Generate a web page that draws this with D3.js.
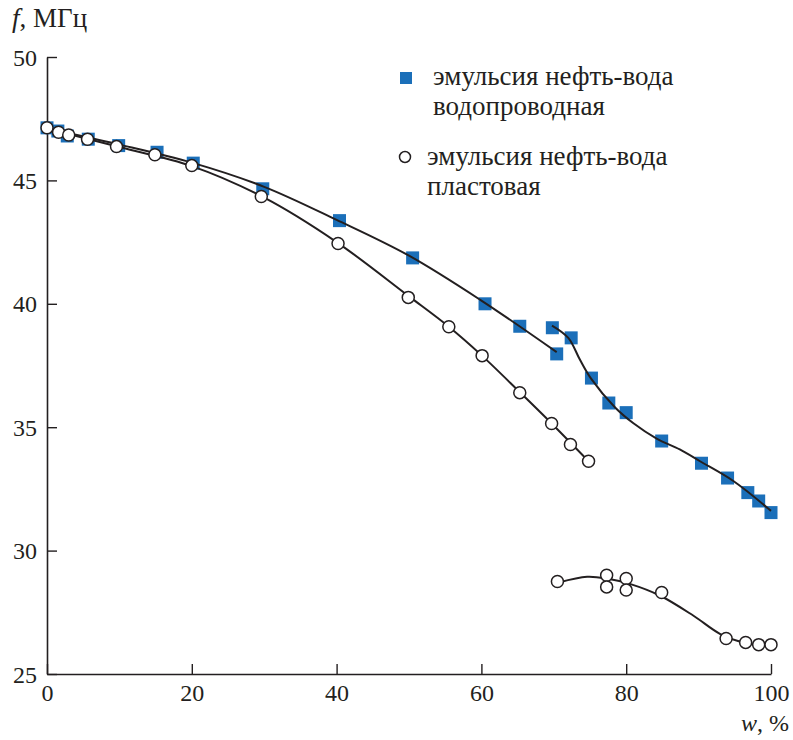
<!DOCTYPE html>
<html>
<head>
<meta charset="utf-8">
<script src="https://cdn.jsdelivr.net/npm/d3@7"></script>
<style>
  body { margin: 0; background: #fff; }
  svg text { font-family: "Liberation Serif", "Tinos", "Times New Roman", "DejaVu Serif", serif; fill: #231f20; }
</style>
</head>
<body>
<div id="chart"></div>
<script>
// measured points, water emulsion (squares)
const tapX = [0, 1.5, 2.8, 5.7, 9.9, 15.2, 20.2, 29.8, 40.4, 50.5, 60.5, 65.3, 69.8, 70.4, 72.4, 75.2, 77.6, 80.0, 84.9, 90.4, 94.0, 96.8, 98.3, 100];
const tapF = [47.13, 47.0, 46.8, 46.67, 46.41, 46.14, 45.7, 44.66, 43.37, 41.86, 40.0, 39.09, 39.03, 37.97, 38.62, 36.99, 35.98, 35.59, 34.44, 33.54, 32.94, 32.35, 32.01, 31.54];

// measured points, formation water emulsion (circles)
const formX = [0, 1.6, 3.0, 5.6, 9.6, 14.9, 20.0, 29.6, 40.2, 49.9, 55.5, 60.1, 65.3, 69.7, 72.3, 74.8,
               70.5, 77.3, 77.3, 80.0, 80.0, 84.9, 93.8, 96.5, 98.3, 100];
const formF = [47.13, 46.95, 46.84, 46.67, 46.37, 46.04, 45.6, 44.35, 42.44, 40.26, 39.07, 37.9, 36.4, 35.15, 34.3, 33.62,
               28.75, 29.0, 28.53, 28.87, 28.4, 28.3, 26.44, 26.28, 26.19, 26.19];

// fitted curves
const fitTap1X = [0, 10, 20, 30, 40, 50, 60, 70.4];
const fitTap1F = [47.1, 46.45, 45.72, 44.74, 43.4, 41.95, 40.13, 38.04];
const fitTap2X = [69.75, 72.0, 73.6, 75.1, 78.5, 81.0, 84.2, 87.4, 90.2, 94.8, 100];
const fitTap2F = [39.12, 38.62, 37.74, 36.99, 35.79, 35.16, 34.54, 34.1, 33.62, 32.82, 31.61];
const fitForm1X = [0, 10, 20, 30, 40, 50, 55.5, 60, 65.3, 69.7, 74.8];
const fitForm1F = [47.1, 46.35, 45.58, 44.3, 42.5, 40.3, 39.07, 37.92, 36.42, 35.15, 33.62];
const fitForm2X = [70.7, 74.6, 77.3, 80.6, 84.7, 89.3, 93.0, 96.2, 100];
const fitForm2F = [28.71, 28.94, 28.87, 28.64, 28.17, 27.36, 26.62, 26.28, 26.12];

const xTicks = [0, 20, 40, 60, 80, 100];
const yTicks = [25, 30, 35, 40, 45, 50];
const legendLabels = [["эмульсия нефть-вода", "водопроводная"], ["эмульсия нефть-вода", "пластовая"]];

const width = 793, height = 740;
const blue = '#1b6fb9';
const ink = '#231f20';
const serif = '"Liberation Serif", "Tinos", "Times New Roman", "DejaVu Serif", serif';

const svg = d3.select('#chart')
              .append('svg')
              .attr('width', width)
              .attr('height', height);

let scaleX = d3.scaleLinear().domain([0, 100]).range([47, 771]);
let scaleY = d3.scaleLinear().domain([25, 50]).range([674, 57]);

// axes: ticks point inward
let xAxis = d3.axisBottom(scaleX).tickValues(xTicks).tickSizeInner(-10).tickSizeOuter(0);
let yAxis = d3.axisLeft(scaleY).tickValues(yTicks).tickSizeInner(-10).tickSizeOuter(0);

let xAxisGroup = svg.append('g')
                    .attr('transform', 'translate(0,' + scaleY(25) + ')')
                    .call(xAxis);
let yAxisGroup = svg.append('g')
                    .attr('transform', 'translate(' + scaleX(0) + ',0)')
                    .call(yAxis);

[xAxisGroup, yAxisGroup].forEach(g => {
    g.attr('font-family', null).attr('font-size', null);
    g.select('.domain').attr('stroke', ink).attr('stroke-width', 1.6);
    g.selectAll('.tick line').attr('stroke', ink).attr('stroke-width', 1.4);
    g.selectAll('.tick text')
     .style('font-family', serif)
     .style('font-size', '24px')
     .attr('fill', ink);
});
xAxisGroup.selectAll('.tick text').attr('y', 27).attr('dy', 0);
yAxisGroup.selectAll('.tick text').attr('x', -10).attr('dy', '0.34em');

// axis titles
let yTitle = svg.append('text').attr('x', 12).attr('y', 27).style('font-size', '27px');
yTitle.append('tspan').style('font-style', 'italic').text('f');
yTitle.append('tspan').text(', МГц');

let xTitle = svg.append('text').attr('x', 789).attr('y', 731).style('text-anchor', 'end').style('font-size', '24px');
xTitle.append('tspan').style('font-style', 'italic').text('w');
xTitle.append('tspan').text(', %');

// squares
const sq = 13;
svg.selectAll('rect.tap')
   .data(d3.zip(tapX, tapF))
   .enter()
   .append('rect')
   .attr('class', 'tap')
   .attr('x', d => scaleX(d[0]) - sq/2)
   .attr('y', d => scaleY(d[1]) - sq/2)
   .attr('width', sq)
   .attr('height', sq)
   .style('fill', blue);

// fitted lines
const line = d3.line().x(d => scaleX(d[0])).y(d => scaleY(d[1])).curve(d3.curveCatmullRom.alpha(0.5));
[[fitTap1X, fitTap1F], [fitTap2X, fitTap2F], [fitForm1X, fitForm1F], [fitForm2X, fitForm2F]].forEach(p => {
    svg.append('path')
       .datum(d3.zip(p[0], p[1]))
       .attr('d', line)
       .attr('fill', 'none')
       .attr('stroke', ink)
       .attr('stroke-width', 2);
});

// circles on top, white inside
svg.selectAll('circle.form')
   .data(d3.zip(formX, formF))
   .enter()
   .append('circle')
   .attr('class', 'form')
   .attr('cx', d => scaleX(d[0]))
   .attr('cy', d => scaleY(d[1]))
   .attr('r', 6)
   .style('fill', '#fff')
   .style('stroke', ink)
   .style('stroke-width', 1.5);

// legend
svg.append('rect').attr('x', 400).attr('y', 72).attr('width', 12).attr('height', 12).style('fill', blue);
svg.append('circle').attr('cx', 405).attr('cy', 157).attr('r', 5.5)
   .style('fill', '#fff').style('stroke', ink).style('stroke-width', 1.5);

const legendPos = [[433, 85, 115], [427, 165, 195]];
legendLabels.forEach((lines, i) => {
    lines.forEach((t, j) => {
        svg.append('text')
           .attr('x', legendPos[i][0])
           .attr('y', legendPos[i][1 + j])
           .style('font-size', '27px')
           .text(t);
    });
});
</script>
</body>
</html>
